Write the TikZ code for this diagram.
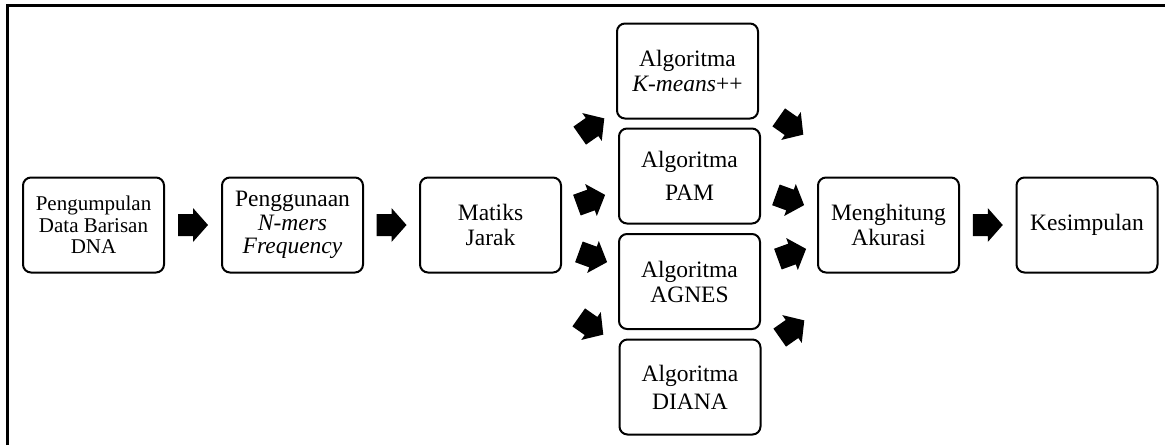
\documentclass[tikz,border=0pt]{standalone}
\usepackage{fontspec}
\setmainfont{Liberation Serif}
\usetikzlibrary{calc}
\tikzset{
  box/.style={draw, line width=2pt, rounded corners=8pt, minimum width=141pt, minimum height=95pt,
    align=center, inner sep=0pt, font=\fontsize{23.5}{25}\selectfont},
  blockarrow/.pic={\fill[black] (-15,-11) -- (0,-11) -- (0,-17) -- (15,0) -- (0,17) -- (0,11) -- (-15,11) -- cycle;},
  frameline/.style={line width=2.5pt, line join=miter}
}
\begin{document}
\begin{tikzpicture}[x=1pt,y=-1pt]
\useasboundingbox (0,0) rectangle (1165,445);
\draw[frameline] (7.5,445) -- (7.5,5.5) -- (1165,5.5);

\node[box, font=\fontsize{21}{21.5}\selectfont] (b1) at (93.5,225) {Pengumpulan\\Data Barisan\\DNA};
\node[box, font=\fontsize{23.5}{23.5}\selectfont] (b2) at (292.5,225) {Penggunaan\\\textit{N-mers}\\\textit{Frequency}};
\node[box] (b3) at (490.5,225) {Matiks\\Jarak};
\node[box] (km) at (687.5,71) {Algoritma\\\textit{K-means}++};
\node[box] (pam) at (689.5,176) {Algoritma\\[8pt]PAM};
\node[box] (agnes) at (689.5,281.5) {Algoritma\\AGNES};
\node[box] (diana) at (690,387) {Algoritma\\[3pt]DIANA};
\node[box] (acc) at (888.5,225) {Menghitung\\Akurasi};
\node[box] (kes) at (1087,225) {Kesimpulan};

\pic at ($(b1.east)!0.5!(b2.west)$) {blockarrow};
\pic at ($(b2.east)!0.5!(b3.west)$) {blockarrow};
\pic at ($(acc.east)!0.5!(kes.west)$) {blockarrow};

\pic[rotate=35] at (592,127) {blockarrow};
\pic[rotate=20] at (591,200) {blockarrow};
\pic[rotate=-20] at (593,257) {blockarrow};
\pic[rotate=-35] at (591,326) {blockarrow};

\pic[rotate=-35] at (791,126) {blockarrow};
\pic[rotate=-20] at (790,200) {blockarrow};
\pic[rotate=20] at (792,254) {blockarrow};
\pic[rotate=35] at (792,329) {blockarrow};
\end{tikzpicture}
\end{document}
